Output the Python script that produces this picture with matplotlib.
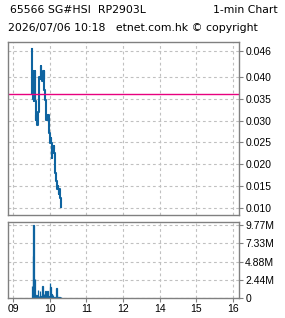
import numpy as np
import matplotlib
matplotlib.use("Agg")
import matplotlib.pyplot as plt

############################################
# data (minutes after 09:00, price / volume)

price_min = [31, 31, 32, 32, 33, 33, 34, 35, 36, 36, 37, 38, 39, 40, 40, 41, 42, 43,
             44, 45, 46, 46, 47, 48, 49, 50, 50, 51, 52, 53, 54, 55, 56, 57, 58, 59,
             60, 61, 62, 63, 64, 64, 65, 66, 67, 67, 68, 69, 70, 71, 72, 73, 74, 75,
             76, 77, 78, 78, 79]
price = [0.0464, 0.0360, 0.0414, 0.0359, 0.0414, 0.0350, 0.0344, 0.0350, 0.0414, 0.0344,
         0.0302, 0.0314, 0.0302, 0.0314, 0.0291, 0.0320, 0.0360, 0.0401, 0.0395, 0.0401,
         0.0425, 0.0395, 0.0410, 0.0390, 0.0414, 0.0395, 0.0414, 0.0370, 0.0370, 0.0348,
         0.0302, 0.0314, 0.0302, 0.0314, 0.0314, 0.0272, 0.0260, 0.0249, 0.0260, 0.0249,
         0.0215, 0.0234, 0.0225, 0.0234, 0.0242, 0.0225, 0.0185, 0.0180, 0.0171, 0.0162,
         0.0143, 0.0150, 0.0143, 0.0132, 0.0143, 0.0124, 0.0110, 0.0102, 0.0102]

vol_min = list(range(31, 79))
volume = [1.6, 5.6, 9.77, 1.2, 0.5, 2.5, 0.3, 0.4, 0.3, 0.2, 1.1, 0.3, 0.2, 0.9, 0.3, 0.2,
          0.6, 1.6, 0.3, 0.6, 0.2, 0.3, 1.0, 0.2, 0.4, 0.9, 0.2, 0.3, 0.1, 2.0, 1.5, 0.6,
          0.5, 0.2, 0.4, 0.1, 0.1, 0.2, 0.1, 0.3, 1.4, 0.4, 0.1, 0.1, 0.0, 0.1, 0.2, 0.1]  # millions

ref_line = 0.0360

price_ticks = [0.010, 0.015, 0.020, 0.025, 0.030, 0.035, 0.040, 0.046]
vol_ticks = [0, 2.44, 4.88, 7.33, 9.77]
vol_labels = ["0", "2.44M", "4.88M", "7.33M", "9.77M"]
hour_ticks = [0, 1, 2, 3, 4, 5, 6]
hour_labels = ["09", "10", "11", "12", "14", "15", "16"]

title_l1 = "65566 SG#HSI  RP2903L"
title_r1 = "1-min Chart"
title_l2 = "2026/07/06 10:18   etnet.com.hk \u00a9 copyright"

#############################################
## Plotting Data
plt.rcParams['font.family'] = ['Liberation Sans', 'DejaVu Sans']
blue = "#0f64a0"
grey = "#808080"

fig = plt.figure(figsize=(2.85, 3.18), dpi=100)
ax = fig.add_axes([8/285, 1-215/318, 231/285, 173/318])
ax2 = fig.add_axes([8/285, 1-298/318, 231/285, 76/318])

xp = np.array(price_min) / 60.0
ax.plot(xp, price, drawstyle='steps-post', color=blue, lw=1.5)
ax.axhline(ref_line, color="#e8007f", lw=1.0)

xv = np.array(vol_min) / 60.0
ax2.bar(xv, volume, width=0.7/60, color=blue, edgecolor=blue, linewidth=0.9, align='edge')

for a in (ax, ax2):
    a.set_xlim(-5/37, 6 + 6/37)
    a.set_xticks(hour_ticks)
    a.grid(True, ls=(0, (2.5, 2.5)), color="#c0c0c0", lw=0.8)
    a.set_axisbelow(True)
    for s in a.spines.values():
        s.set_color(grey)
        s.set_linewidth(1.0)
    a.yaxis.tick_right()
    a.tick_params(axis='both', colors=grey, length=3, width=0.8, labelsize=7.5,
                  labelcolor="black", pad=1.5)

ax.set_ylim(0.0084, 0.048)
ax.set_yticks(price_ticks)
ax.set_yticklabels(["%.3f" % v for v in price_ticks])
ax.tick_params(axis='x', length=0, labelbottom=False)

ax2.set_ylim(0, 10.17)
ax2.set_yticks(vol_ticks)
ax2.set_yticklabels(vol_labels)
ax2.set_xticklabels(hour_labels)

hdr = dict(fontsize=7.8, va='center', family=['DejaVu Sans'])
fig.text(10/285, 1-10/318, title_l1, ha='left', **hdr)
fig.text(278/285, 1-10/318, title_r1, ha='right', **hdr)
fig.text(8/285, 1-28/318, title_l2, ha='left', **hdr)

fig.savefig("out.png", dpi=100)
